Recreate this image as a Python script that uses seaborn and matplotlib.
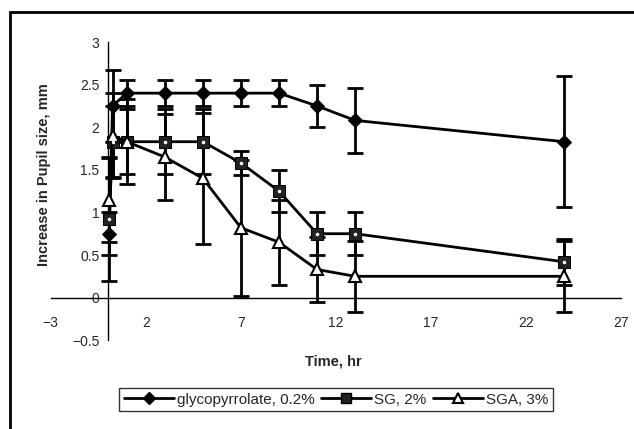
import pandas as pd
import matplotlib.pyplot as plt
import seaborn as sns
from matplotlib.patches import Rectangle

# values
time = [0.08, 0.25, 1, 3, 5, 7, 9, 11, 13, 24]
glyco = [0.75, 2.25, 2.4, 2.4, 2.4, 2.4, 2.4, 2.25, 2.08, 1.83]
glyco_err = [0.25, 0.42, 0.15, 0.15, 0.15, 0.15, 0.15, 0.25, 0.38, 0.77]
sg = [0.92, 1.83, 1.83, 1.83, 1.83, 1.58, 1.25, 0.75, 0.75, 0.42]
sg_err = [0.72, 0.42, 0.38, 0.38, 0.38, 0.14, 0.25, 0.25, 0.25, 0.27]
sga = [1.15, 1.9, 1.83, 1.65, 1.4, 0.82, 0.65, 0.33, 0.25, 0.25]
sga_err = [0.5, 0.5, 0.5, 0.5, 0.77, 0.8, 0.5, 0.38, 0.42, 0.42]

labels = ["glycopyrrolate, 0.2%", "SG, 2%", "SGA, 3%"]
x_ticks = [-3, 2, 7, 12, 17, 22, 27]
y_ticks = [-0.5, 0, 0.5, 1, 1.5, 2, 2.5, 3]

df = pd.concat([
    pd.DataFrame({"time": time, "size": glyco, "err": glyco_err, "group": labels[0]}),
    pd.DataFrame({"time": time, "size": sg, "err": sg_err, "group": labels[1]}),
    pd.DataFrame({"time": time, "size": sga, "err": sga_err, "group": labels[2]}),
])

sns.set_style("white")
plt.rcParams["font.family"] = ["Liberation Sans", "DejaVu Sans"]

fig = plt.figure(figsize=(6.34, 4.29), dpi=100)
ax = fig.add_axes([0.080, 0.207, 0.900, 0.695])

# error bars first so markers sit on top
for g in labels:
    d = df[df["group"] == g]
    ax.errorbar(d["time"], d["size"], yerr=d["err"], fmt="none", ecolor="black",
                elinewidth=2, capsize=6, capthick=2, zorder=2)

marker_map = {labels[0]: "D", labels[1]: "s", labels[2]: "^"}
sns.lineplot(data=df, x="time", y="size", hue="group", style="group",
             palette=["black"] * 3, markers=marker_map, dashes=False,
             linewidth=2, markersize=7, ax=ax, legend=False, zorder=3)

# marker faces: diamond black, square black with light centre, triangle white
lines = ax.get_lines()[-3:]
lines[0].set_markerfacecolor("black")
lines[0].set_markeredgecolor("black")
lines[1].set_markerfacecolor("#222222")
lines[1].set_markeredgecolor("black")
lines[1].set_markersize(8)
lines[2].set_markerfacecolor("white")
lines[2].set_markeredgecolor("black")
lines[2].set_markeredgewidth(1.5)
lines[2].set_markersize(8)
ax.plot(time, sg, linestyle="none", marker=".", color="white", markersize=3, zorder=4)

ax.set_xlim(-3, 27)
ax.set_ylim(-0.5, 3)
ax.set_xticks(x_ticks)
ax.set_yticks(y_ticks)
ax.set_xticklabels(["\u22123", "2", "7", "12", "17", "22", "27"])
ax.set_yticklabels(["\u22120.5", "0", "0.5", "1", "1.5", "2", "2.5", "3"])

for s in ["top", "right"]:
    ax.spines[s].set_visible(False)
ax.spines["left"].set_position(("data", 0))
ax.spines["bottom"].set_position(("data", 0))
ax.spines["left"].set_color("black")
ax.spines["bottom"].set_color("black")
ax.spines["left"].set_linewidth(1)
ax.spines["bottom"].set_linewidth(1)
ax.tick_params(axis="x", direction="inout", length=6, width=1, pad=10, labelsize=10)
ax.tick_params(axis="y", direction="inout", length=6, width=1, pad=3, labelsize=10)

ax.set_xlabel("Time, hr", fontsize=10.5, fontweight="bold")
ax.set_ylabel("Increase in Pupil size, mm", fontsize=10.5, fontweight="bold")
ax.xaxis.set_label_coords(0.496, -0.047)
ax.yaxis.set_label_coords(0.0, 0.554)

# legend handles
h1, = ax.plot([], [], color="black", lw=2, marker="D", markersize=6)
h2, = ax.plot([], [], color="black", lw=2, marker="s", markersize=7, markerfacecolor="#222222")
h3, = ax.plot([], [], color="black", lw=2, marker="^", markersize=7,
              markerfacecolor="white", markeredgewidth=1.5)
leg = fig.legend([h1, h2, h3], labels, loc="center", bbox_to_anchor=(0.530, 0.068),
                 ncol=3, frameon=True, fancybox=False, fontsize=11, handlelength=3.3,
                 handletextpad=0.2, columnspacing=0.4, borderpad=0.3, borderaxespad=0)
leg.get_frame().set_edgecolor("black")
leg.get_frame().set_linewidth(1)

# outer chart border (left and top edges visible)
fig.patches.append(Rectangle((0.016, -0.2), 1.2, 1.172, transform=fig.transFigure,
                             fill=False, edgecolor="black", linewidth=2))

fig.savefig("out.png", dpi=100)
